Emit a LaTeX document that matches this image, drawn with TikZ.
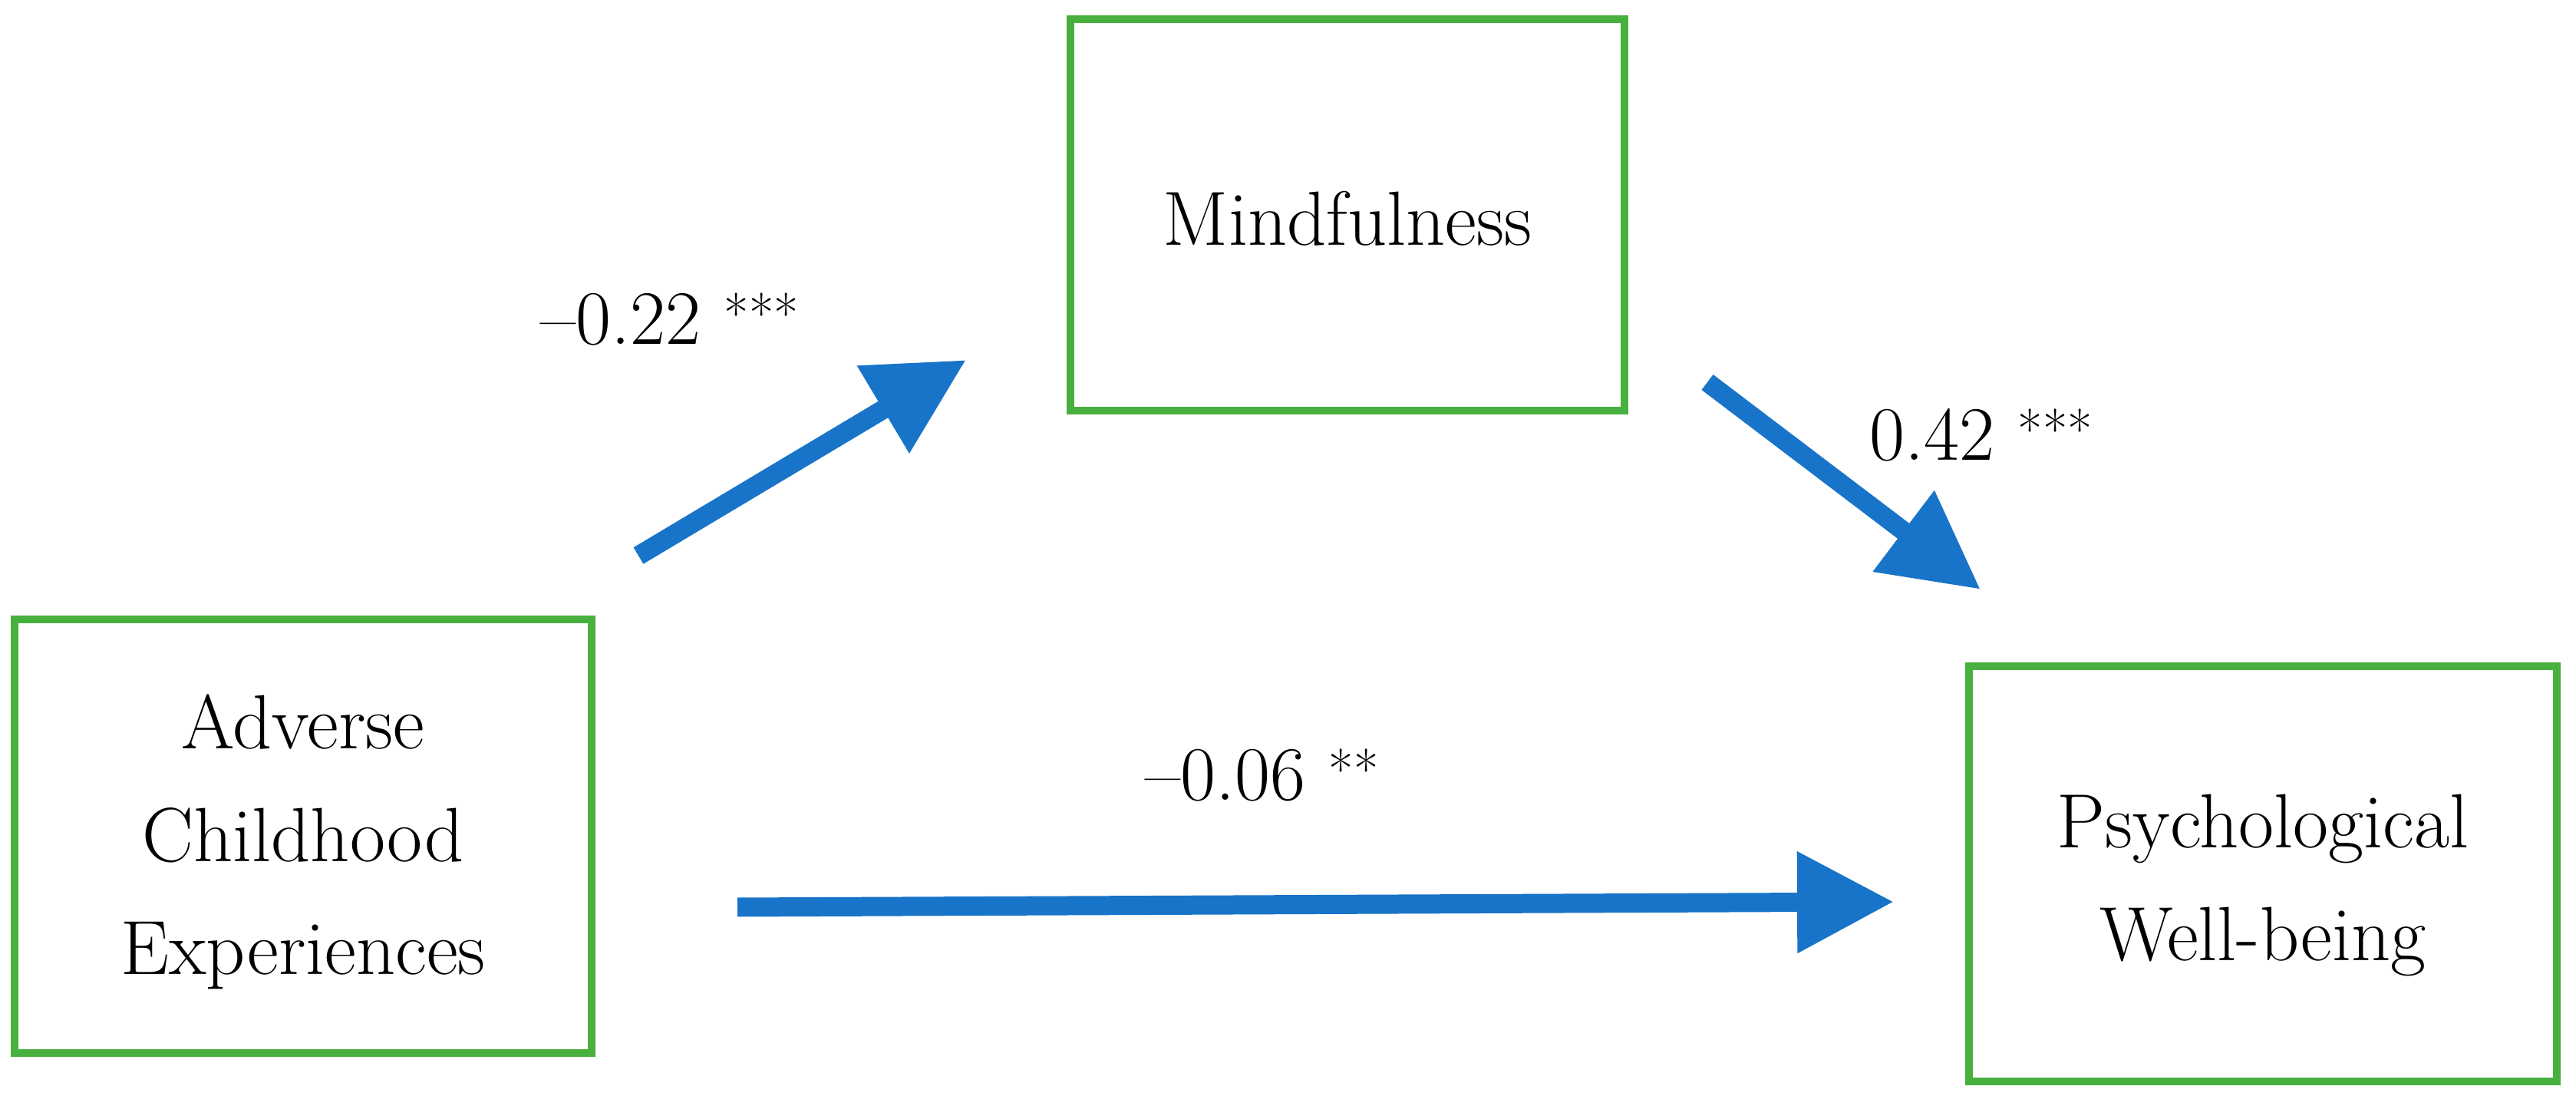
\documentclass[tikz,border=0pt]{standalone}
\usepackage{tikz}
\usetikzlibrary{arrows.meta}
\definecolor{boxgreen}{RGB}{72,176,62}
\definecolor{arrowblue}{RGB}{24,116,200}
\newcommand*{\stars}[1]{{\fontsize{20}{20}\selectfont\raisebox{0.2em}{#1}}}

\begin{document}
\begin{tikzpicture}[font=\fontsize{28.5}{41.8}\selectfont]
\tikzstyle varbox=[draw=boxgreen,line width=1.05mm,align=center,inner sep=0pt]
\tikzstyle effect=[draw=arrowblue,line width=2.5mm,
    -{Triangle[length=12.6mm,width=12.6mm]}]
\tikzstyle coef=[anchor=base west,inner sep=0pt]
 \useasboundingbox (0,0) rectangle (33.57,14.4);
 \node[varbox,minimum width=75.2mm,minimum height=56.5mm] (ace) at (3.95,3.505)
   {\rule{0pt}{8.5mm}Adverse\\Childhood\\Experiences};
 \node[varbox,minimum width=72.2mm,minimum height=51mm] (mind) at (17.56,11.6)
   {\rule{0pt}{7.9mm}Mindfulness};
 \node[varbox,minimum width=76.6mm,minimum height=54.1mm] (pwb) at (29.49,3.015)
   {\rule{0pt}{10mm}Psychological\\Well-being};
 \coordinate (acemind) at (8.32,7.16);
 \coordinate (mindin) at (12.59,9.71);
 \coordinate (mindpwb) at (22.25,9.42);
 \coordinate (pwbin) at (25.81,6.72);
 \coordinate (acepwb) at (9.61,2.58);
 \coordinate (pwbleft) at (24.68,2.65);
 \draw[effect] (acemind) -- (mindin);
 \draw[effect] (mindpwb) -- (pwbin);
 \draw[effect] (acepwb) -- (pwbleft);
 \node[coef] (apath) at (7.04,9.91) {–0.22 \stars{***}};
 \node[coef] (bpath) at (24.36,8.4) {0.42 \stars{***}};
 \node[coef] (cpath) at (14.92,3.97) {–0.06 \stars{**}};
\end{tikzpicture}
\end{document}
